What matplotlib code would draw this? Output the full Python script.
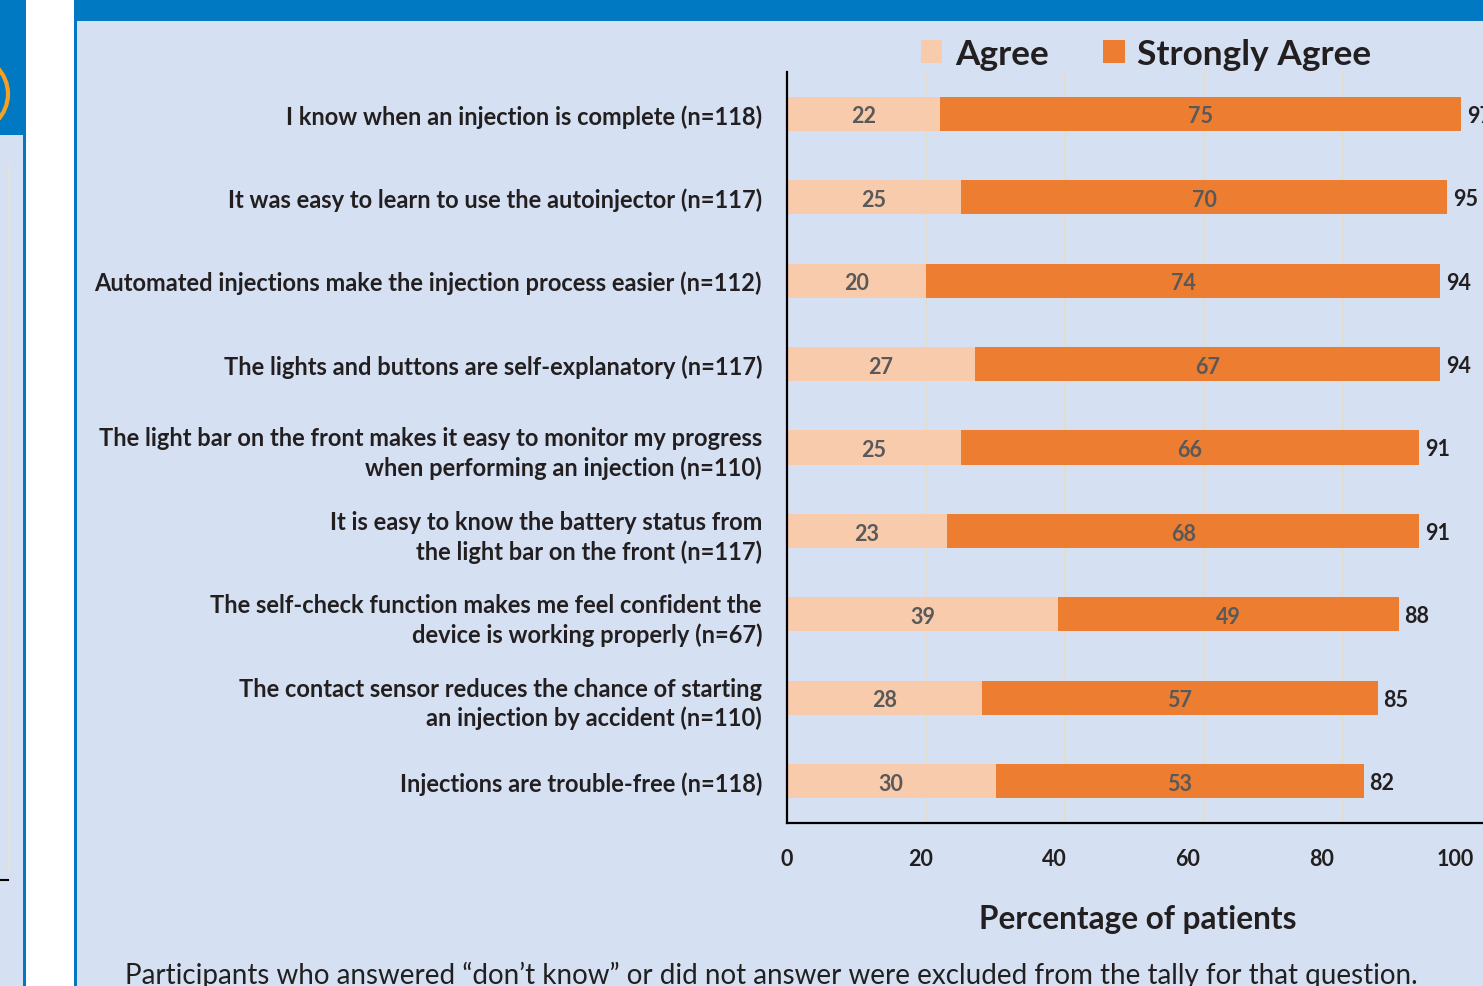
import matplotlib
matplotlib.use("Agg")
import matplotlib.pyplot as plt
from matplotlib.patches import Rectangle, Ellipse
from matplotlib.lines import Line2D

plt.rcParams['font.family'] = ['Lato', 'DejaVu Sans']

# ---------------- data ----------------
categories = [
    "I know when an injection is complete (n=118)",
    "It was easy to learn to use the autoinjector (n=117)",
    "Automated injections make the injection process easier (n=112)",
    "The lights and buttons are self-explanatory (n=117)",
    "The light bar on the front makes it easy to monitor my progress\nwhen performing an injection (n=110)",
    "It is easy to know the battery status from\nthe light bar on the front (n=117)",
    "The self-check function makes me feel confident the\ndevice is working properly (n=67)",
    "The contact sensor reduces the chance of starting\nan injection by accident (n=110)",
    "Injections are trouble-free (n=118)",
]
agree = [22, 25, 20, 27, 25, 23, 39, 28, 30]
strongly_agree = [75, 70, 74, 67, 66, 68, 49, 57, 53]
totals = [97, 95, 94, 94, 91, 91, 88, 85, 82]
series_names = ["Agree", "Strongly Agree"]
x_ticks = [0, 20, 40, 60, 80, 100]
x_title = "Percentage of patients"
footnote = "Participants who answered \u201cdon\u2019t know\u201d or did not answer were excluded from the tally for that question."

# ---------------- styling ----------------
W, H = 1483, 987
PANEL = "#d5e1f2"
BLUE = "#0079c2"
C_AGREE = "#f8cbad"
C_STRONG = "#ed7d31"
TXT = "#231f20"
GREY = "#595959"
GRID = "#e2ddcf"

fig = plt.figure(figsize=(W / 100, H / 100), dpi=100)
fig.patch.set_facecolor(PANEL)


def fx(x):
    return x / W


def fy(y):
    return 1 - y / H


# poster decorations (figure coordinates)
fig.add_artist(Rectangle((fx(26), 0), fx(74) - fx(26), 1, transform=fig.transFigure,
                         facecolor="white", edgecolor="none", zorder=0))
fig.add_artist(Rectangle((fx(74), 0), fx(3), 1, transform=fig.transFigure,
                         facecolor=BLUE, edgecolor="none", zorder=0))
fig.add_artist(Rectangle((fx(23), 0), fx(3), 1, transform=fig.transFigure,
                         facecolor=BLUE, edgecolor="none", zorder=0))
fig.add_artist(Rectangle((0, fy(136)), fx(25), 136 / H, transform=fig.transFigure,
                         facecolor=BLUE, edgecolor="none", zorder=0))
fig.add_artist(Rectangle((fx(77), fy(22)), 1 - fx(77), 22 / H, transform=fig.transFigure,
                         facecolor=BLUE, edgecolor="none", zorder=0))
fig.add_artist(Ellipse((fx(-30), fy(95)), 2 * 38 / W, 2 * 38 / H, transform=fig.transFigure,
                       facecolor="none", edgecolor="#f5a020", linewidth=3, zorder=1))
fig.add_artist(Line2D([fx(8), fx(8)], [fy(165), fy(875)], transform=fig.transFigure,
                      color="#e6e2d8", linewidth=1, zorder=1))
fig.add_artist(Line2D([0, fx(8)], [fy(881), fy(881)], transform=fig.transFigure,
                      color="black", linewidth=1.5, zorder=1))

# ---------------- chart ----------------
left, right = fx(787), fx(1482)
bottom, top = fy(824), fy(73)
ax = fig.add_axes([left, bottom, right - left, top - bottom])
ax.set_facecolor("none")

y = list(range(len(categories)))
bar_h = 0.41
b1 = ax.barh(y, agree, height=bar_h, color=C_AGREE, zorder=3, label=series_names[0])
b2 = ax.barh(y, strongly_agree, left=agree, height=bar_h, color=C_STRONG, zorder=3,
             label=series_names[1])

for i in y:
    ax.annotate(str(agree[i]), xy=(agree[i] / 2, i), xytext=(0, -1.5),
                textcoords="offset points", ha="center", va="center",
                fontsize=15.5, fontweight="bold", color=GREY, zorder=5)
    ax.annotate(str(strongly_agree[i]), xy=(agree[i] + strongly_agree[i] / 2, i),
                xytext=(0, -1.5), textcoords="offset points", ha="center", va="center",
                fontsize=15.5, fontweight="bold", color=GREY, zorder=5)
    ax.annotate(str(totals[i]), xy=(agree[i] + strongly_agree[i], i), xytext=(4, -1),
                textcoords="offset points", ha="left", va="center",
                fontsize=15.5, fontweight="bold", color=TXT, annotation_clip=False)

ax.set_ylim(len(categories) - 0.5, -0.5)
ax.set_xlim(0, 100)
ax.set_yticks(y)
ax.set_yticklabels(categories, fontsize=17, fontweight="bold", color=TXT,
                   linespacing=1.32)
ax.tick_params(axis="y", length=0, pad=18)

ax.set_xticks(x_ticks)
ax.tick_params(axis="x", length=0, labelbottom=False)
ax.grid(axis="x", color=GRID, linewidth=1.5, zorder=0)
ax.grid(axis="y", visible=False)

for s in ["top", "right"]:
    ax.spines[s].set_visible(False)
for s in ["left", "bottom"]:
    ax.spines[s].set_color("black")
    ax.spines[s].set_linewidth(1.6)
    ax.spines[s].set_zorder(4)

# tick labels as drawn in the reference (slightly compressed scale)
K = 695 / 668
sec = ax.secondary_xaxis("bottom", functions=(lambda v: v * K, lambda v: v / K))
sec.set_xticks(x_ticks)
sec.set_xticklabels([str(v) for v in x_ticks], fontsize=15.5, fontweight="bold", color=TXT)
sec.tick_params(length=0, pad=18)
sec.spines["bottom"].set_visible(False)

fig.text(fx(1138), fy(920), x_title, ha="center", va="center",
         fontsize=22.7, fontweight="bold", color=TXT)

fig.legend(handles=[b1, b2], labels=series_names, loc="center",
           bbox_to_anchor=(fx(1146), fy(55)), ncol=2, frameon=False,
           handlelength=0.62, handleheight=0.62,
           handletextpad=0.35, columnspacing=1.55,
           prop={"weight": "bold", "size": 25.4})
for t in fig.legends[0].get_texts():
    t.set_color(TXT)

fig.text(fx(125), fy(975), footnote, ha="left", va="center",
         fontsize=20, color=TXT)

fig.savefig("out.png", dpi=100, facecolor=fig.get_facecolor())
